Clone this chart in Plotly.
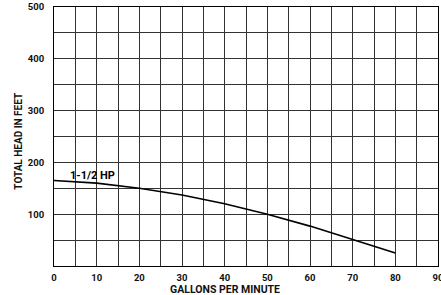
import plotly.graph_objects as go

gpm = [0, 10, 20, 30, 40, 50, 60, 70, 80]
head_ft = [165, 160, 150, 137, 120, 100, 77, 51, 25]
curve_label = "1-1/2 HP"
x_ticks = [0, 10, 20, 30, 40, 50, 60, 70, 80, 90]
y_ticks = [100, 200, 300, 400, 500]

FONT = "Roboto, Liberation Sans, sans-serif"

fig = go.Figure()
fig.add_trace(go.Scatter(x=gpm, y=head_ft, mode="lines",
                         line=dict(color="black", width=1.6),
                         hoverinfo="skip", showlegend=False))

fig.add_annotation(x=3.3, y=175, text="<b>" + curve_label + "</b>", showarrow=False,
                   xanchor="left", yanchor="middle",
                   font=dict(family=FONT, size=11, color="black"))

fig.add_annotation(x=40, y=0, yref="paper", yshift=-23, text="<b>GALLONS PER MINUTE</b>",
                   showarrow=False, xanchor="center", yanchor="middle",
                   font=dict(family=FONT, size=10.5, color="#111"))
fig.add_annotation(x=0, xref="paper", xshift=-35, y=240, text="<b>TOTAL HEAD IN FEET</b>",
                   textangle=-90, showarrow=False, xanchor="center", yanchor="middle",
                   font=dict(family=FONT, size=10, color="#111"))

grid = "#333333"
fig.update_xaxes(range=[0, 90], tickvals=x_ticks, ticktext=[f"<b>{v}</b>" for v in x_ticks],
                 showgrid=True, gridcolor=grid, gridwidth=1,
                 minor=dict(dtick=5, tick0=0, showgrid=True, gridcolor=grid, gridwidth=1),
                 showline=True, linecolor="black", linewidth=1, mirror=True,
                 ticks="", ticklabelstandoff=3, zeroline=False, automargin=False,
                 ticklabeloverflow="allow",
                 tickfont=dict(family=FONT, size=9.5, color="#111"))
fig.update_yaxes(range=[0, 500], tickvals=y_ticks, ticktext=[f"<b>{v}</b>" for v in y_ticks],
                 showgrid=True, gridcolor=grid, gridwidth=1,
                 minor=dict(dtick=50, tick0=0, showgrid=True, gridcolor=grid, gridwidth=1),
                 showline=True, linecolor="black", linewidth=1, mirror=True,
                 ticks="", ticklabelstandoff=7, zeroline=False, automargin=False,
                 ticklabeloverflow="allow",
                 tickfont=dict(family=FONT, size=9.5, color="#111"))

fig.update_layout(width=441, height=295,
                  margin=dict(l=54, r=3, t=7, b=29, autoexpand=False),
                  plot_bgcolor="white", paper_bgcolor="white")

fig.write_html("out.html", config={"displayModeBar": False},
               post_script="document.body.style.margin='0';document.body.style.overflow='hidden';")
